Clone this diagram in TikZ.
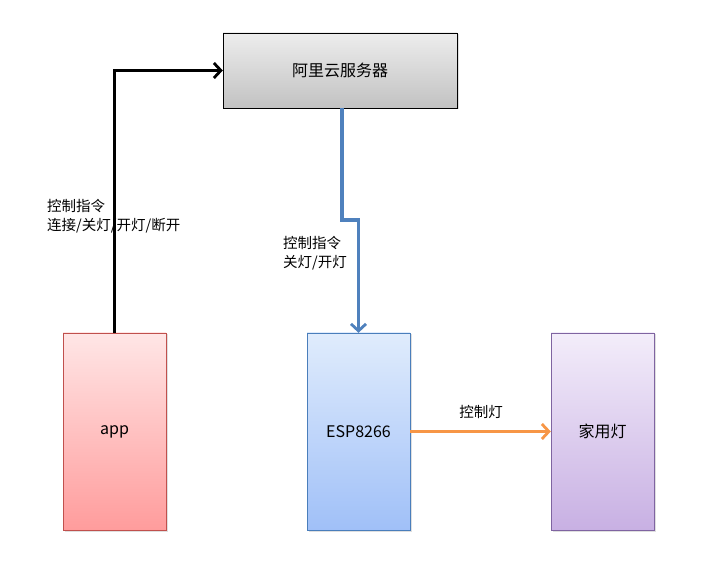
\documentclass[tikz,border=0pt]{standalone}
\usepackage{fontspec}
\setmainfont{Noto Sans CJK SC}
\usetikzlibrary{arrows.meta,shadows}
\definecolor{servertop}{HTML}{EDEDED}
\definecolor{serverbot}{HTML}{C2C2C2}
\definecolor{apptop}{HTML}{FFE6E6}
\definecolor{appbot}{HTML}{FF9C9C}
\definecolor{appline}{HTML}{C0504D}
\definecolor{esptop}{HTML}{E0ECFC}
\definecolor{espbot}{HTML}{A0C0F8}
\definecolor{espline}{HTML}{4A7EBB}
\definecolor{lamptop}{HTML}{F3EDFA}
\definecolor{lampbot}{HTML}{C8B0E3}
\definecolor{lampline}{HTML}{7F64A1}
\definecolor{wireblue}{HTML}{4F81BD}
\definecolor{wireorange}{HTML}{F79646}
\begin{document}
\begin{tikzpicture}[x=1pt,y=-1pt,
    box/.style={rectangle,inner sep=0pt,font=\fontsize{16}{19}\selectfont,
      drop shadow={opacity=0.25,shadow xshift=1.5pt,shadow yshift=-1.5pt}},
    tall/.style={box,minimum width=103pt,minimum height=197pt},
    lbl/.style={align=left,inner sep=0pt,font=\fontsize{14.5}{19}\selectfont},
    wire/.style={line width=3.5pt,-{Straight Barb[length=7pt,width=15pt,line width=2.8pt]}}]
  \useasboundingbox (0,0) rectangle (713,564);
  \node[box,draw=black,top color=servertop,bottom color=serverbot,
    minimum width=234pt,minimum height=75pt] (server) at (340,70.5) {阿里云服务器};
  \node[tall,draw=appline,top color=apptop,bottom color=appbot] (app) at (114.5,431.5) {app};
  \node[tall,draw=espline,top color=esptop,bottom color=espbot] (esp) at (358.5,431.5) {ESP8266};
  \node[tall,draw=lampline,top color=lamptop,bottom color=lampbot] (lamp) at (602.5,431.5) {家用灯};
  \draw[wire,black] (app.north) |- (server.west);
  \coordinate (knee) at (342,220);
  \draw[wire,wireblue] (server.south -| knee) -- (knee) -| (esp.north);
  \draw[wire,wireorange] (esp.east) -- (lamp.west);
  \node[lbl,anchor=west] (appcmd) at (47,216.5) {控制指令\\连接/关灯/开灯/断开};
  \node[lbl,anchor=west] (espcmd) at (283,253) {控制指令\\关灯/开灯};
  \node[lbl] (lampcmd) at (481,412) {控制灯};
\end{tikzpicture}
\end{document}
